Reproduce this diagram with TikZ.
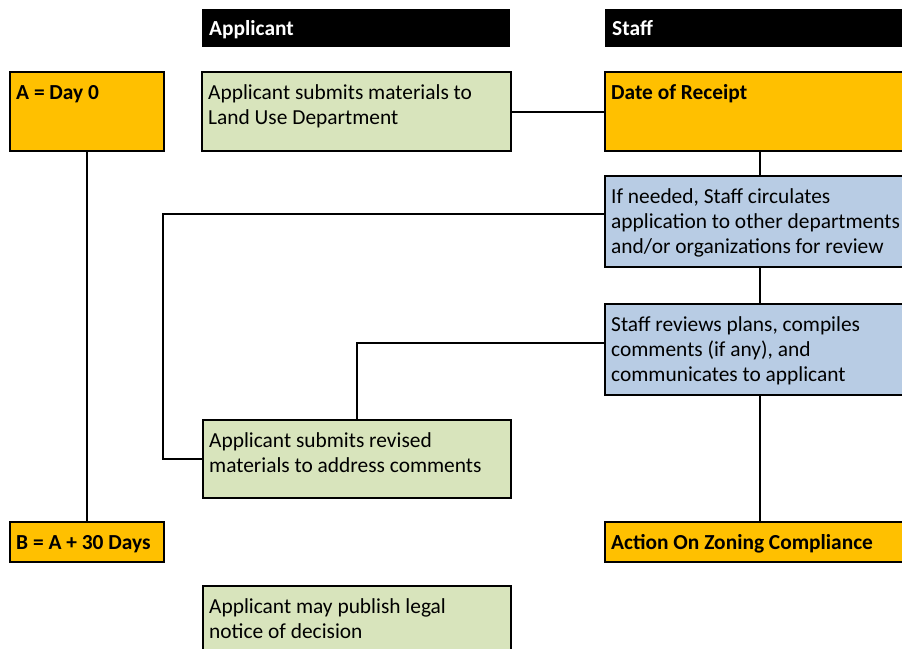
\documentclass[tikz,border=0pt]{standalone}
\usepackage{fontspec}
\setmainfont{Carlito}
\definecolor{milestone}{HTML}{FFC000}
\definecolor{applicantfill}{HTML}{D8E4BC}
\definecolor{stafffill}{HTML}{B8CCE4}
% stacked lines whose reference point is the first baseline
\newcommand{\stacklines}[1]{\begin{tabular}[t]{@{}l@{}}#1\end{tabular}}
\tikzset{
  box/.style={draw=black, line width=2.2pt, rectangle, anchor=north west, inner sep=0pt},
  header/.style={fill=black, rectangle, anchor=north west, inner sep=0pt},
  orangebox/.style={box, fill=milestone},
  greenbox/.style={box, fill=applicantfill},
  bluebox/.style={box, fill=stafffill},
  txt/.style={anchor=base west, inner sep=0pt, xshift=7pt, yshift=-28.5pt,
    font=\fontsize{21.4pt}{25pt}\selectfont},
  boldtxt/.style={txt, font=\fontsize{21.4pt}{25pt}\selectfont\bfseries},
  link/.style={line width=2.2pt, draw=black}
}
\begin{document}
\begin{tikzpicture}[x=1pt, y=1pt]
  \useasboundingbox (0,0) rectangle (902,-648);
  \clip (0,0) rectangle (902,-648);

  % column headers
  \node[header, minimum width=308pt, minimum height=38pt] (hdrA) at (202,-9) {};
  \node[boldtxt, text=white, yshift=2pt] (hdrAtxt) at (hdrA.north west) {Applicant};
  \node[header, minimum width=310pt, minimum height=38pt] (hdrS) at (605,-9) {};
  \node[boldtxt, text=white, yshift=2pt] (hdrStxt) at (hdrS.north west) {Staff};

  % milestone boxes
  \node[orangebox, minimum width=154pt, minimum height=79pt] (dayA) at (9,-71) {};
  \node[boldtxt] (dayAtxt) at (dayA.north west) {A = Day 0};
  \node[orangebox, minimum width=154pt, minimum height=40pt] (dayB) at (9,-521) {};
  \node[boldtxt] (dayBtxt) at (dayB.north west) {B = A + 30 Days};

  % applicant column
  \node[greenbox, minimum width=309pt, minimum height=79pt] (submit) at (201,-71) {};
  \node[txt] (submittxt) at (submit.north west) {\stacklines{Applicant submits materials to\\Land Use Department}};
  \node[greenbox, minimum width=308pt, minimum height=78pt] (revised) at (202,-419) {};
  \node[txt] (revisedtxt) at (revised.north west) {\stacklines{Applicant submits revised\\materials to address comments}};
  \node[greenbox, minimum width=308pt, minimum height=80pt] (publish) at (202,-585) {};
  \node[txt] (publishtxt) at (publish.north west) {\stacklines{Applicant may publish legal\\notice of decision}};

  % staff column
  \node[orangebox, minimum width=310pt, minimum height=79pt] (receipt) at (604,-71) {};
  \node[boldtxt] (receipttxt) at (receipt.north west) {Date of Receipt};
  \node[bluebox, minimum width=310pt, minimum height=91pt] (circ) at (604,-175) {};
  \node[txt] (circtxt) at (circ.north west) {\stacklines{If needed, Staff circulates\\application to other departments\\and/or organizations for review}};
  \node[bluebox, minimum width=310pt, minimum height=91pt] (review) at (604,-303) {};
  \node[txt] (reviewtxt) at (review.north west) {\stacklines{Staff reviews plans, compiles\\comments (if any), and\\communicates to applicant}};
  \node[orangebox, minimum width=310pt, minimum height=40pt] (action) at (604,-521) {};
  \node[boldtxt] (actiontxt) at (action.north west) {Action On Zoning Compliance};

  % connectors
  \draw[link] (dayA.south) -- (dayB.north);
  \draw[link] (submit.east) -- (receipt.west);
  \draw[link] (receipt.south) -- (circ.north);
  \draw[link] (circ.south) -- (review.north);
  \draw[link] (review.south) -- (action.north);
  \draw[link] ([yshift=7.5pt]circ.west) -- ++(-441,0) |- (revised.west);
  \draw[link] ([yshift=6.5pt]review.west) -| (revised.north);
\end{tikzpicture}
\end{document}
